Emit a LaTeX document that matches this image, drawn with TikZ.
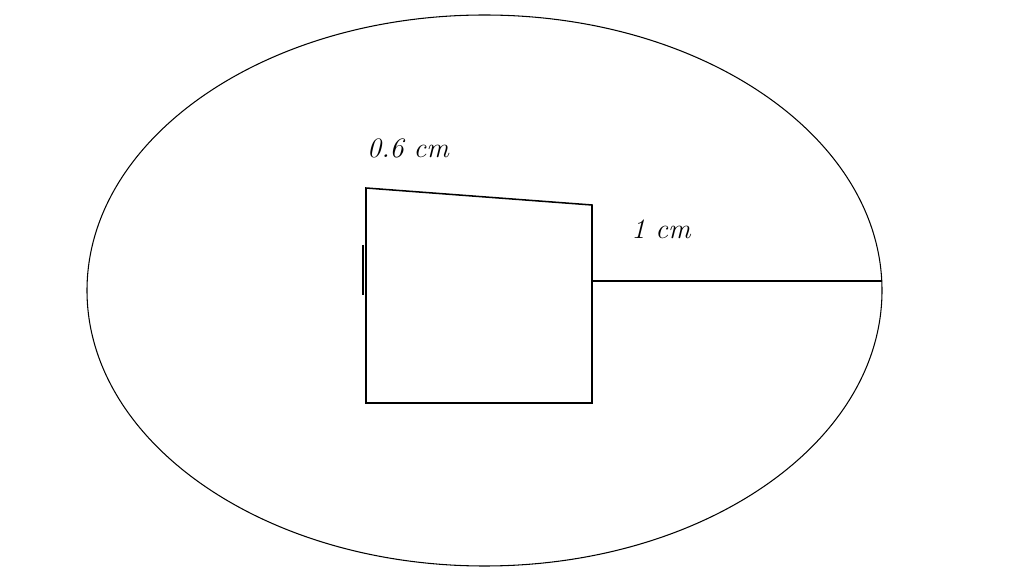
\documentclass[tikz,border=0pt]{standalone}
\usetikzlibrary{calc}

\begin{document}
\begin{tikzpicture}[x=0.03cm,y=-0.03cm]
		\useasboundingbox (0,0) rectangle (1024,573);
		\draw [line width=0.9pt] (484.5,290.5) ellipse [x radius=397.5, y radius=275.5];
		\coordinate (e) at (882,281);
		\coordinate (1) at (366,188);
		\coordinate (2) at (592,205);
		\coordinate (3) at (592,403);
		\coordinate (4) at (366,403);
		\draw [line width=1.3pt] (1) -- (2) -- (3) -- (4) -- cycle;
		\draw [line width=1.3pt] (592,281) -- (e);
		\draw [line width=2.2pt] (363,245) -- (363,295);
		\node (a) at (408,148) {\fontsize{24}{24}\selectfont\itshape 0.6 cm};
		\node (b) at (661,229) {\fontsize{24}{24}\selectfont\itshape 1 cm};
		\end{tikzpicture}
\end{document}
